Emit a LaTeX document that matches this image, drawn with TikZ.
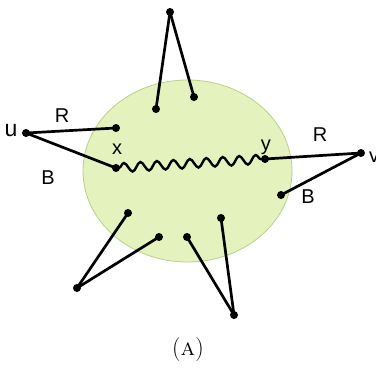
\documentclass[tikz,border=0pt]{standalone}
\usepackage{fontspec}
\newfontfamily\lblfont{Liberation Sans}
\usetikzlibrary{decorations.pathmorphing}

\definecolor{blobfill}{RGB}{228,242,190}
\definecolor{blobline}{RGB}{188,208,138}

\tikzset{
  vtx/.style={circle, fill=black, inner sep=0pt, minimum size=8pt},
  edge/.style={line width=2.7pt},
  lbl/.style={font=\lblfont\fontsize{20}{22}\selectfont, inner sep=0pt}
}

\begin{document}
\begin{tikzpicture}[x=1pt, y=-1pt]
  \useasboundingbox (0,0) rectangle (376,368);

  % the cluster
  \fill[blobfill] (187.5,171) ellipse (104.5 and 91);
  \draw[blobline, line width=0.8pt] (187.5,171) ellipse (104.5 and 91);

  % vertices
  \node[vtx] (top)  at (170,12)  {};
  \node[vtx] (tl)   at (156,109) {};
  \node[vtx] (tr)   at (194,97)  {};
  \node[vtx] (u)    at (26,133)  {};
  \node[vtx] (ur)   at (116,128) {};
  \node[vtx] (x)    at (116,168) {};
  \node[vtx] (y)    at (265,159) {};
  \node[vtx] (v)    at (361,153) {};
  \node[vtx] (vb)   at (281,195) {};
  \node[vtx] (bl1)  at (128,213) {};
  \node[vtx] (bl2)  at (159,237) {};
  \node[vtx] (bla)  at (77,288)  {};
  \node[vtx] (br1)  at (187,237) {};
  \node[vtx] (br2)  at (221,218) {};
  \node[vtx] (bra)  at (234,315) {};

  % edges
  \draw[edge] (top.center) -- (tl.center);
  \draw[edge] (top.center) -- (tr.center);
  \draw[edge] (u.center) -- (ur.center);
  \draw[edge] (u.center) -- (x.center);
  \draw[edge] (v.center) -- (y.center);
  \draw[edge] (v.center) -- (vb.center);
  \draw[edge] (bla.center) -- (bl1.center);
  \draw[edge] (bla.center) -- (bl2.center);
  \draw[edge] (bra.center) -- (br1.center);
  \draw[edge] (bra.center) -- (br2.center);

  % the path from x to y
  \draw[line width=2.4pt, decorate,
        decoration={snake, segment length=16.5pt, amplitude=4.5pt,
                    pre length=3pt, post length=3pt}] (x.center) -- (y.center);

  % labels
  \node[lbl, font=\lblfont\fontsize{23}{25}\selectfont] (lu) at (11,131) {u};
  \node[lbl] (lr1) at (62,116)  {R};
  \node[lbl] (lb1) at (48,178)  {B};
  \node[lbl] (lx)  at (117,149) {x};
  \node[lbl] (ly)  at (266,147) {y};
  \node[lbl] (lr2) at (320,135) {R};
  \node[lbl, anchor=west] (lv) at (369,157) {v};
  \node[lbl] (lb2) at (308,197) {B};

  \node[font=\fontsize{24}{26}\selectfont] (cap) at (188,350) {({\scshape a})};
\end{tikzpicture}
\end{document}
